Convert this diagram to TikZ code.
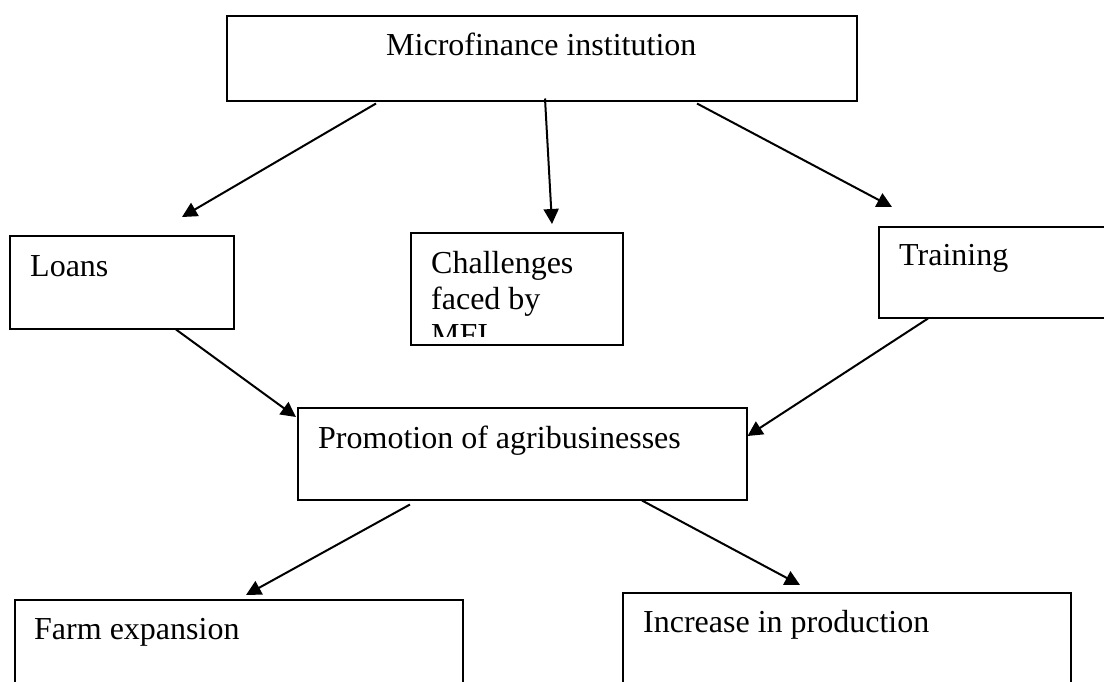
\documentclass[tikz,border=0pt]{standalone}
\usepackage{fontspec}
\setmainfont{Liberation Serif}
\usetikzlibrary{calc,arrows.meta}
\tikzset{
  box/.style={draw=black, line width=1.5pt, inner sep=0pt, anchor=north west},
  txt/.style={inner sep=0pt, anchor=base west, font=\fontsize{32}{36}\selectfont},
  arr/.style={line width=2pt, -{Triangle[length=15pt,width=15pt]}}
}
\begin{document}
\begin{tikzpicture}[x=1pt,y=1pt]
\useasboundingbox (0,0) rectangle (1104,-681);
\fill[white] (0,0) rectangle (1104,-681);
\clip (0,0) rectangle (1104,-681);
% boxes
\node[box, minimum width=630pt, minimum height=85pt] (mfi) at (226,-15) {};
\node[box, minimum width=224pt, minimum height=93pt] (loans) at (9,-235) {};
\node[box, minimum width=212pt, minimum height=112pt] (chal) at (410,-232) {};
\node[box, minimum width=240pt, minimum height=91pt] (train) at (878,-226) {};
\node[box, minimum width=449pt, minimum height=92pt] (promo) at (297,-407) {};
\node[box, minimum width=448pt, minimum height=100pt] (farm) at (14,-599) {};
\node[box, minimum width=448pt, minimum height=100pt] (incr) at (622,-592) {};
% texts
\node[txt] (tmfi) at (386,-55) {Microfinance institution};
\node[txt] (tloans) at (30,-276) {Loans};
\begin{scope}
\clip (410,-232) rectangle (622,-336);
\node[txt] (tch1) at (431,-273) {Challenges};
\node[txt] (tch2) at (431,-309) {faced by};
\node[txt] (tch3) at (431,-345) {MFI};
\end{scope}
\node[txt] (ttrain) at (899,-265) {Training};
\node[txt] (tpromo) at (318,-448) {Promotion of agribusinesses};
\node[txt] (tfarm) at (34,-639) {Farm expansion};
\node[txt] (tincr) at (643,-632) {Increase in production};
% connectors
\draw[arr] ($(mfi.south west)+(150,-2)$) -- ($(loans.north west)+(173,18)$);
\draw[arr] ($(mfi.south west)+(319,3)$) -- ($(chal.north west)+(142,8)$);
\draw[arr] ($(mfi.south west)+(471,-2)$) -- ($(train.north west)+(14,19)$);
\draw[arr] ($(loans.south west)+(167,0)$) -- ($(promo.north west)+(-1,-10)$);
\draw[arr] ($(train.south west)+(50,0)$) -- ($(promo.north east)+(0,-29)$);
\draw[arr] ($(promo.south west)+(113,-4)$) -- ($(farm.north west)+(232,4)$);
\draw[arr] ($(promo.south west)+(345,0)$) -- ($(incr.north west)+(178,7)$);
\end{tikzpicture}
\end{document}
